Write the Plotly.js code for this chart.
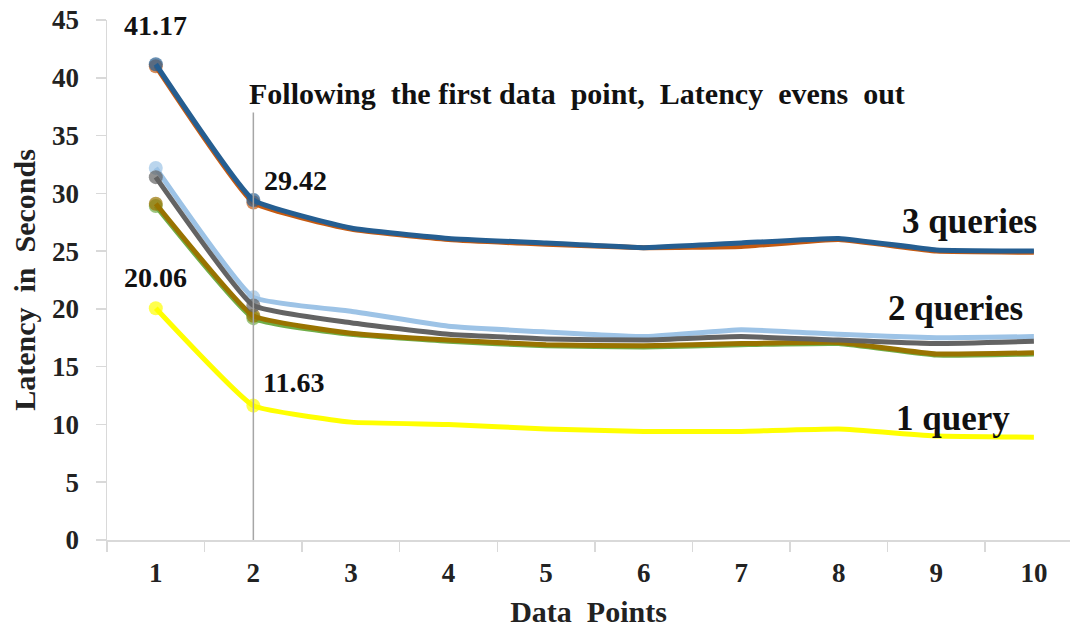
<!DOCTYPE html>
<html>
<head>
<meta charset="utf-8">
<script src="https://cdn.plot.ly/plotly-3.0.1.min.js"></script>
<style>html,body{margin:0;padding:0;background:#fff;}#chart{width:1070px;height:631px;}</style>
</head>
<body>
<div id="chart"></div>
<script>
const categories = ['1','2','3','4','5','6','7','8','9','10'];

// 3 queries
const q3a = [41.00, 29.20, 26.90, 26.00, 25.60, 25.30, 25.40, 26.00, 25.00, 24.90];
const q3b = [41.17, 29.42, 27.00, 26.10, 25.70, 25.30, 25.70, 26.10, 25.10, 25.00];
// 2 queries
const q2light = [32.20, 21.00, 19.80, 18.50, 18.00, 17.60, 18.20, 17.80, 17.50, 17.60];
const q2gray  = [31.40, 20.30, 18.80, 17.80, 17.40, 17.30, 17.60, 17.30, 17.00, 17.20];
const q2green = [28.90, 19.20, 17.80, 17.20, 16.80, 16.70, 16.90, 17.00, 16.00, 16.10];
const q2gold  = [29.10, 19.40, 17.90, 17.30, 16.90, 16.80, 17.00, 17.10, 16.10, 16.20];
// 1 query
const q1 = [20.06, 11.63, 10.20, 10.00, 9.60, 9.40, 9.40, 9.60, 9.00, 8.90];

const yTicks = [0,5,10,15,20,25,30,35,40,45];

const FAM = 'Liberation Serif';
const markerSizes = categories.map((c,i) => i < 2 ? 14 : 0);

function series(y, color) {
  return {
    x: categories, y: y, type: 'scatter', mode: 'lines+markers',
    line: {color: color, width: 5, shape: 'spline', smoothing: 0.35},
    marker: {color: color, size: markerSizes, line: {width: 0}},
    hoverinfo: 'skip', showlegend: false, cliponaxis: false
  };
}

const data = [
  series(q1, '#FFFF00'),
  series(q2green, '#70AD47'),
  series(q2gold, '#997300'),
  series(q2light, '#9DC3E6'),
  series(q2gray, '#636363'),
  series(q3a, '#C55A11'),
  series(q3b, '#255E91')
];

const numFont = {family: FAM, size: 28, color: '#111', weight: 'bold'};
const noteFont = {family: FAM, size: 30, color: '#111', weight: 'bold'};
const labelFont = {family: FAM, size: 35, color: '#111', weight: 'bold'};

const layout = {
  width: 1070, height: 631,
  margin: {l: 107, r: 0, t: 20, b: 91},
  paper_bgcolor: '#fff', plot_bgcolor: '#fff',
  font: {family: FAM, color: '#222'},
  showlegend: false,
  xaxis: {
    type: 'category', range: [-0.5, 9.37], tickson: 'boundaries',
    showgrid: false, zeroline: false,
    showline: true, linecolor: '#d9d9d9', linewidth: 2,
    ticks: 'outside', ticklen: 10, tickcolor: '#d9d9d9', tickwidth: 1.5,
    ticklabelstandoff: 8,
    tickfont: {family: FAM, size: 27, color: '#222', weight: 'bold'},
    title: {text: 'Data  Points', font: {family: FAM, size: 30, color: '#222', weight: 'bold'}, standoff: 14}
  },
  yaxis: {
    range: [0, 45], tickmode: 'array', tickvals: yTicks, ticktext: yTicks.map(String),
    showgrid: false, zeroline: false,
    showline: true, linecolor: '#d9d9d9', linewidth: 1.5,
    ticks: 'outside', ticklen: 10, tickcolor: '#d9d9d9', tickwidth: 1.5,
    ticklabelstandoff: 11,
    tickfont: {family: FAM, size: 27, color: '#222', weight: 'bold'},
    title: {text: 'Latency  in  Seconds', font: {family: FAM, size: 30, color: '#222', weight: 'bold'}, standoff: 7}
  },
  shapes: [{
    type: 'line', xref: 'x', yref: 'y', x0: 1, x1: 1, y0: -0.6, y1: 37.0,
    line: {color: '#a6a6a6', width: 1.5}
  }],
  annotations: [
    {x: 0, y: 44.5, xref: 'x', yref: 'y', text: '41.17', showarrow: false, xanchor: 'center', font: numFont},
    {x: 1, y: 31.15, xref: 'x', yref: 'y', text: '29.42', showarrow: false, xanchor: 'left', xshift: 9, font: numFont},
    {x: 0, y: 22.76, xref: 'x', yref: 'y', text: '20.06', showarrow: false, xanchor: 'center', font: numFont},
    {x: 1, y: 13.59, xref: 'x', yref: 'y', text: '11.63', showarrow: false, xanchor: 'left', xshift: 8, font: numFont},
    {x: 1, y: 38.68, xref: 'x', yref: 'y', text: 'Following  the first data  point,  Latency  evens  out', showarrow: false, xanchor: 'left', xshift: -6, font: noteFont},
    {x: 9, y: 27.6, xref: 'x', yref: 'y', text: '3 queries', showarrow: false, xanchor: 'right', xshift: 5, font: labelFont},
    {x: 9, y: 20.0, xref: 'x', yref: 'y', text: '2 queries', showarrow: false, xanchor: 'right', xshift: -9, font: labelFont},
    {x: 9, y: 10.5, xref: 'x', yref: 'y', text: '1 query', showarrow: false, xanchor: 'right', xshift: -22, font: labelFont}
  ]
};

function draw() { Plotly.newPlot('chart', data, layout, {staticPlot: true, displayModeBar: false}); }
if (document.fonts && document.fonts.load) {
  Promise.all([
    document.fonts.load('bold 20px "Liberation Serif"'),
    document.fonts.load('20px "Liberation Serif"')
  ]).then(draw, draw);
} else { draw(); }
</script>
</body>
</html>
